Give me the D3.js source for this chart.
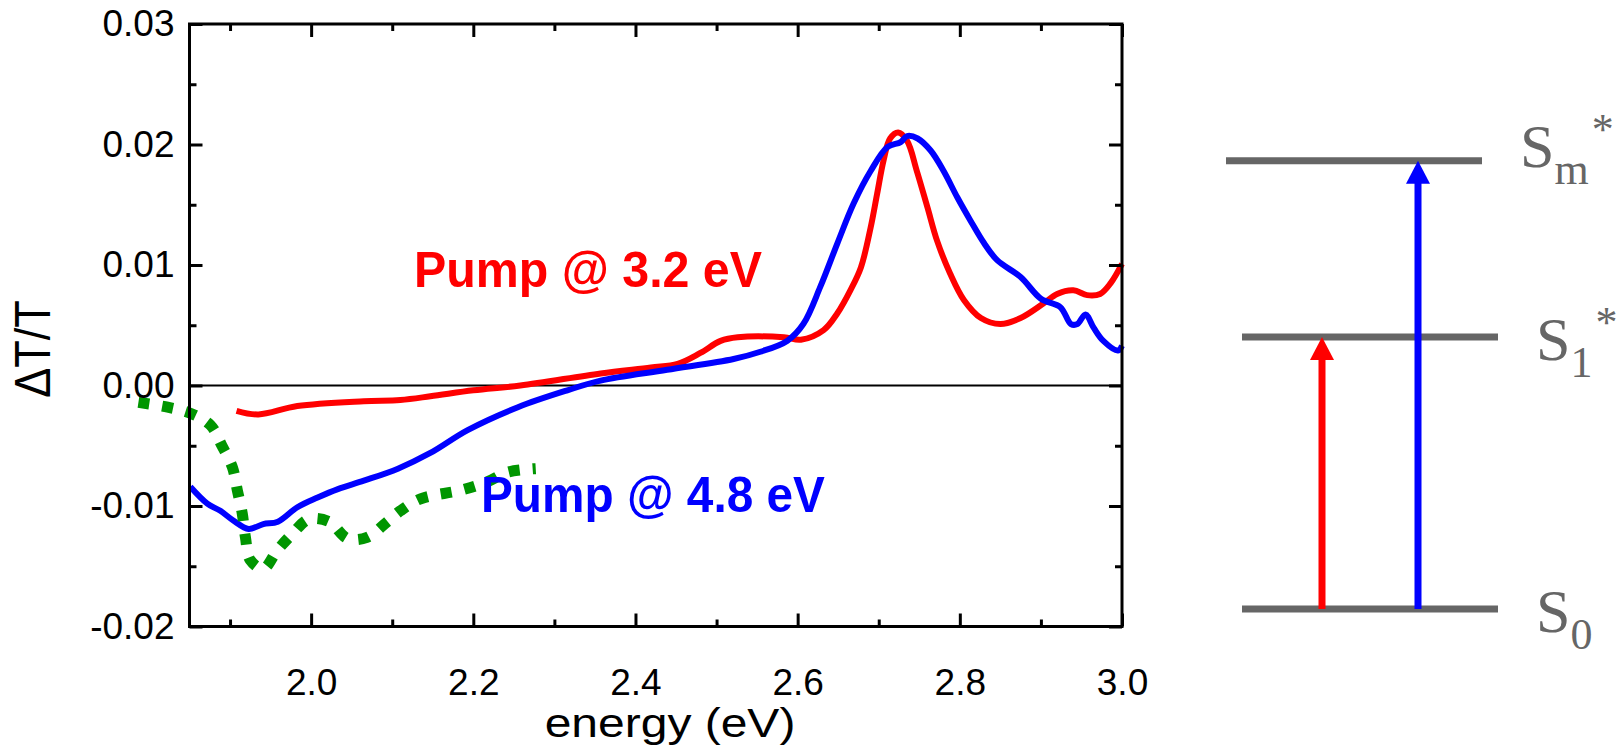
<!DOCTYPE html>
<html>
<head>
<meta charset="utf-8">
<script src="https://cdn.jsdelivr.net/npm/d3@7/dist/d3.min.js"></script>
<style>
  html, body { margin: 0; padding: 0; background: #fff; }
  svg { display: block; font-family: 'Liberation Sans', Arial, sans-serif; }
  .axis path { display: none; }
  .axis line { stroke: #000; stroke-width: 3; }
  .axis text { font-size: 37px; fill: #000; }
</style>
</head>
<body>
<svg class="chart" width="1617" height="752"></svg>
<script>
// ---- data ----
const xTickValues = [2.0, 2.2, 2.4, 2.6, 2.8, 3.0];
const xTickLabels = ['2.0', '2.2', '2.4', '2.6', '2.8', '3.0'];
const xMinorValues = [1.9, 2.1, 2.3, 2.5, 2.7, 2.9];
const yTickValues = [-0.02, -0.01, 0.0, 0.01, 0.02, 0.03];
const yTickLabels = ['-0.02', '-0.01', '0.00', '0.01', '0.02', '0.03'];
const yMinorValues = [-0.015, -0.005, 0.005, 0.015, 0.025];

// pump @ 3.2 eV
const energyRed = [1.908, 1.935, 1.983, 2.065, 2.110, 2.147, 2.200, 2.258, 2.357, 2.419, 2.452, 2.480, 2.505,
  2.526, 2.583, 2.604, 2.632, 2.649, 2.665, 2.678, 2.690, 2.698, 2.706, 2.714, 2.724, 2.735, 2.747, 2.760,
  2.772, 2.788, 2.805, 2.826, 2.850, 2.875, 2.903, 2.920, 2.940, 2.957, 2.973, 2.986, 3.0];
const dtRed = [-0.0021, -0.0024, -0.0017, -0.0013, -0.0012, -0.0009, -0.0004, 0.0000, 0.0010, 0.0015, 0.0018, 0.0027, 0.0037,
  0.0040, 0.0040, 0.0038, 0.0046, 0.0060, 0.0079, 0.0098, 0.0131, 0.0159, 0.0187, 0.0205, 0.0210, 0.0203, 0.0178, 0.0148,
  0.0120, 0.0093, 0.0071, 0.0056, 0.0051, 0.0056, 0.0068, 0.0076, 0.0079, 0.0075, 0.0076, 0.0085, 0.0101];

// pump @ 4.8 eV
const energyBlue = [1.851, 1.872, 1.888, 1.904, 1.923, 1.941, 1.959, 1.983, 2.008, 2.033, 2.065, 2.107, 2.147, 2.193,
  2.255, 2.316, 2.357, 2.439, 2.521, 2.554, 2.587, 2.607, 2.628, 2.649, 2.669, 2.690, 2.711, 2.727, 2.735, 2.748,
  2.764, 2.780, 2.797, 2.813, 2.830, 2.846, 2.875, 2.900, 2.924, 2.937, 2.945, 2.955, 2.965, 2.977, 2.995, 3.0];
const dtBlue = [-0.0084, -0.0098, -0.0104, -0.0112, -0.0119, -0.0115, -0.0113, -0.0101, -0.0093, -0.0086, -0.0079, -0.0069, -0.0056, -0.0037,
  -0.0018, -0.0004, 0.0004, 0.0013, 0.0022, 0.0028, 0.0037, 0.0051, 0.0082, 0.0118, 0.0151, 0.0178, 0.0198, 0.0202, 0.0207, 0.0205,
  0.0195, 0.0178, 0.0156, 0.0137, 0.0118, 0.0104, 0.0090, 0.0072, 0.0065, 0.0051, 0.0051, 0.0059, 0.0048, 0.0037, 0.0029, 0.0033];

// dotted green reference
const energyGreen = [1.787, 1.823, 1.851, 1.876, 1.890, 1.903, 1.909, 1.915, 1.919, 1.925, 1.941, 1.958, 1.977, 1.997,
  2.022, 2.045, 2.069, 2.094, 2.110, 2.135, 2.184, 2.217, 2.242, 2.277];
const dtGreen = [-0.0014, -0.0018, -0.0023, -0.0033, -0.0050, -0.0068, -0.0087, -0.0106, -0.0126, -0.0145, -0.0152, -0.0137, -0.0123, -0.0111,
  -0.0113, -0.0127, -0.0126, -0.0113, -0.0104, -0.0094, -0.0087, -0.0080, -0.0072, -0.0069];

// level scheme
const levelBase = ['S', 'S', 'S'];
const levelSub = ['0', '1', 'm'];
const levelSup = ['', '*', '*'];
const levelEnergy = [0, 0.607, 1];
const pumpNames = ['3.2 eV', '4.8 eV'];
const pumpTarget = [1, 2];

// ---- layout ----
const margin = {top: 24, left: 189.5};
const width = 932.5;
const height = 602.5;

const svg = d3.select('.chart');

const x = d3.scaleLinear().domain([1.85, 3.0]).range([margin.left, margin.left + width]);
const y = d3.scaleLinear().domain([-0.02, 0.03]).range([margin.top + height, margin.top]);

const toPoints = (xs, ys) => xs.map((e, i) => [e, ys[i]]);

const line = d3.line()
  .x(d => x(d[0]))
  .y(d => y(d[1]))
  .curve(d3.curveCatmullRom.alpha(0.5));

// zero line
svg.append('line')
  .attr('x1', x(1.85)).attr('x2', x(3.0))
  .attr('y1', y(0)).attr('y2', y(0))
  .attr('stroke', '#000').attr('stroke-width', 2);

// curves
svg.append('path')
  .attr('d', line(toPoints(energyRed, dtRed)))
  .attr('fill', 'none').attr('stroke', '#ff0000').attr('stroke-width', 6)
  .attr('stroke-linejoin', 'round');

svg.append('path')
  .attr('d', line(toPoints(energyBlue, dtBlue)))
  .attr('fill', 'none').attr('stroke', '#0000ff').attr('stroke-width', 6)
  .attr('stroke-linejoin', 'round');

svg.append('path')
  .attr('d', line(toPoints(energyGreen, dtGreen)))
  .attr('fill', 'none').attr('stroke', '#009600').attr('stroke-width', 11)
  .attr('stroke-dasharray', '11,13');

// axes: major ticks inside, minor ticks inside, mirrored top/right
const bottomAxis = d3.axisBottom(x).tickValues(xTickValues).tickSizeInner(-13).tickSizeOuter(0)
  .tickPadding(42).tickFormat((d, i) => xTickLabels[i]);
const leftAxis = d3.axisLeft(y).tickValues(yTickValues).tickSizeInner(-13).tickSizeOuter(0)
  .tickPadding(15).tickFormat((d, i) => yTickLabels[i]);

svg.append('g').attr('class', 'axis bottom')
  .attr('transform', 'translate(0,' + (margin.top + height) + ')')
  .call(bottomAxis);
svg.append('g').attr('class', 'axis')
  .attr('transform', 'translate(0,' + (margin.top + height) + ')')
  .call(d3.axisBottom(x).tickValues(xMinorValues).tickSize(-7).tickFormat(''));
svg.append('g').attr('class', 'axis')
  .attr('transform', 'translate(0,' + margin.top + ')')
  .call(d3.axisTop(x).tickValues(xTickValues).tickSize(-13).tickFormat(''));
svg.append('g').attr('class', 'axis')
  .attr('transform', 'translate(0,' + margin.top + ')')
  .call(d3.axisTop(x).tickValues(xMinorValues).tickSize(-7).tickFormat(''));

svg.append('g').attr('class', 'axis left')
  .attr('transform', 'translate(' + margin.left + ',0)')
  .call(leftAxis);
svg.append('g').attr('class', 'axis')
  .attr('transform', 'translate(' + margin.left + ',0)')
  .call(d3.axisLeft(y).tickValues(yMinorValues).tickSize(-7).tickFormat(''));
svg.append('g').attr('class', 'axis')
  .attr('transform', 'translate(' + (margin.left + width) + ',0)')
  .call(d3.axisRight(y).tickValues(yTickValues).tickSize(-13).tickFormat(''));
svg.append('g').attr('class', 'axis')
  .attr('transform', 'translate(' + (margin.left + width) + ',0)')
  .call(d3.axisRight(y).tickValues(yMinorValues).tickSize(-7).tickFormat(''));

// frame
svg.append('rect')
  .attr('x', margin.left).attr('y', margin.top)
  .attr('width', width).attr('height', height)
  .attr('fill', 'none').attr('stroke', '#000').attr('stroke-width', 3);

// axis titles
svg.append('text')
  .attr('transform', 'translate(670,737) scale(1.2,1)')
  .attr('text-anchor', 'middle')
  .style('font-size', '40px')
  .text('energy (eV)');

svg.append('text')
  .attr('transform', 'translate(50,349) rotate(-90) scale(1,1.1)')
  .attr('text-anchor', 'middle')
  .style('font-size', '45px')
  .text('ΔT/T');

// series labels
svg.append('text')
  .attr('x', 414).attr('y', 287)
  .attr('textLength', 348).attr('lengthAdjust', 'spacingAndGlyphs')
  .style('font-size', '50px').style('font-weight', 'bold').style('fill', '#ff0000')
  .text('Pump @ 3.2 eV');

svg.append('text')
  .attr('x', 481).attr('y', 512)
  .attr('textLength', 344).attr('lengthAdjust', 'spacingAndGlyphs')
  .style('font-size', '50px').style('font-weight', 'bold').style('fill', '#0000ff')
  .text('Pump @ 4.8 eV');

// ---- energy level diagram ----
const ly = d3.scaleLinear().domain([0, 1]).range([609, 160.7]);
const px = d3.scalePoint().domain(pumpNames).range([1322, 1418]);
const levelShift = [0, 0, -16];
const labelShift = [[0, 23], [0, 23.3], [-16, 6.3]];
const grey = '#666';

levelEnergy.forEach((v, i) => {
  svg.append('line')
    .attr('x1', 1242 + levelShift[i]).attr('x2', 1498 + levelShift[i])
    .attr('y1', ly(v)).attr('y2', ly(v))
    .attr('stroke', grey).attr('stroke-width', 7);

  const t = svg.append('text')
    .attr('x', 1536 + labelShift[i][0])
    .attr('y', ly(v) + labelShift[i][1])
    .style('font-family', "'Liberation Serif', 'Times New Roman', serif")
    .style('font-size', '62px')
    .style('fill', grey);
  t.append('tspan').text(levelBase[i]);
  t.append('tspan').attr('dy', 17).style('font-size', '44px').text(levelSub[i]);
  if (levelSup[i]) {
    t.append('tspan').attr('dx', 3).attr('dy', -40).style('font-size', '44px').text(levelSup[i]);
  }
});

const pumpColors = ['#ff0000', '#0000ff'];
const headLen = 23;
const headW = 24;
pumpNames.forEach((p, i) => {
  const cx = px(p);
  const top = ly(levelEnergy[pumpTarget[i]]);
  svg.append('line')
    .attr('x1', cx).attr('x2', cx)
    .attr('y1', ly(levelEnergy[0])).attr('y2', top + headLen - 1)
    .attr('stroke', pumpColors[i]).attr('stroke-width', 7);
  svg.append('path')
    .attr('d', 'M' + cx + ',' + top + 'L' + (cx + headW / 2) + ',' + (top + headLen) +
      'L' + (cx - headW / 2) + ',' + (top + headLen) + 'Z')
    .attr('fill', pumpColors[i]);
});
</script>
</body>
</html>
